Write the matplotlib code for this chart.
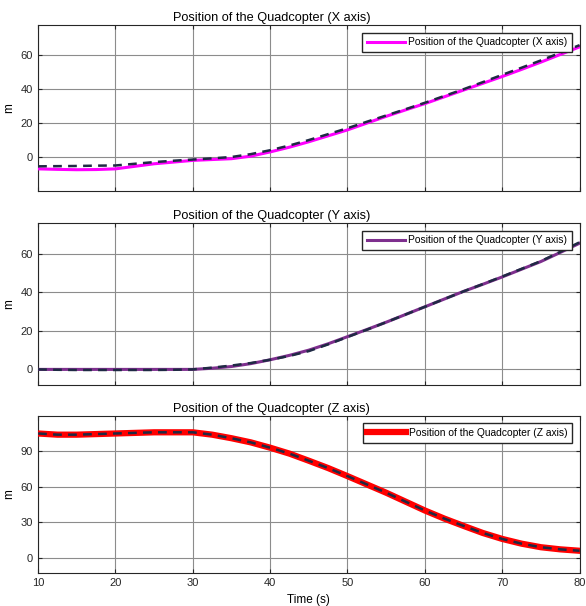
import matplotlib.pyplot as plt

plt.rcParams['font.family'] = ['Liberation Sans', 'DejaVu Sans']
plt.rcParams['font.size'] = 8

# time samples (s)
t = [10, 12.5, 15, 17.5, 20, 22.5, 25, 27.5, 30, 32.5, 35, 37.5, 40, 42.5, 45,
     47.5, 50, 52.5, 55, 57.5, 60, 62.5, 65, 67.5, 70, 72.5, 75, 77.5, 80]

# X axis: actual (solid) and reference (dashed)
x_pos = [-7, -7.3, -7.5, -7.4, -7, -5.5, -4, -3, -2, -1.5, -1, 0.5, 3, 5.8, 9,
         12.5, 16, 20, 24, 27.8, 31.5, 35.5, 39.5, 43.5, 47.5, 51.7, 56, 60.5, 65]
x_ref = [-5.5, -5.4, -5.3, -5.1, -5, -4, -3, -2.2, -1.5, -0.8, 0, 1.7, 4, 6.8, 10,
         13.5, 17, 20.8, 24.5, 28.2, 32, 36, 40, 44.2, 48.5, 52.7, 57, 61.5, 66]

# Y axis
y_pos = [0, 0, 0, 0, 0, 0, 0, 0, 0, 0.6, 1.5, 3, 5, 7.3, 10,
         13.3, 17, 20.7, 24.5, 28.5, 32.5, 36.5, 40.5, 44.2, 48, 52, 56, 60.7, 65.5]
y_ref = [0, -0.2, -0.3, -0.3, -0.3, -0.3, -0.3, -0.2, 0, 0.9, 2, 3.3, 5, 7, 9.5,
         13, 16.8, 20.6, 24.5, 28.5, 32.5, 36.5, 40.5, 44.3, 48.2, 52.2, 56.2, 61, 66]

# Z axis
z_pos = [105, 104, 104, 104.5, 105, 105.5, 106, 106, 106, 104, 101, 97.5, 93, 88, 82,
         75.8, 69, 62, 55, 47.5, 40, 33.2, 27, 21, 16, 12, 9, 7.2, 6]
z_ref = z_pos

panels = [
    ('Position of the Quadcopter (X axis)', x_pos, x_ref, '#ff00ff', 2.2, (-20, 78), [0, 20, 40, 60]),
    ('Position of the Quadcopter (Y axis)', y_pos, y_ref, '#7e2f8e', 2.2, (-8, 76), [0, 20, 40, 60]),
    ('Position of the Quadcopter (Z axis)', z_pos, z_ref, '#ff0000', 4.5, (-13, 120), [0, 30, 60, 90]),
]

fig = plt.figure(figsize=(5.86, 6.06), dpi=100)
boxes = [(0.065, 0.685, 0.924, 0.274),
         (0.065, 0.365, 0.924, 0.267),
         (0.065, 0.054, 0.924, 0.260)]

for (title, pos, ref, col, lw, ylim, yt), box in zip(panels, boxes):
    ax = fig.add_axes(box)
    ax.plot(t, pos, color=col, lw=lw, label=title, zorder=3)
    ax.plot(t, ref, color='#1f2a44', lw=1.8, ls=(0, (3.5, 2.5)), zorder=4)
    ax.set_xlim(10, 80)
    ax.set_ylim(*ylim)
    ax.set_yticks(yt)
    ax.set_xticks(range(10, 81, 10))
    ax.grid(True, color='#8c8c8c', lw=0.8)
    ax.set_axisbelow(True)
    ax.tick_params(direction='in', length=3, top=True, right=True, labelsize=8, colors='#262626')
    ax.set_title(title, fontsize=9.2, pad=3, x=0.431)
    ax.set_ylabel('m', fontsize=8.5)
    for s in ax.spines.values():
        s.set_color('#262626')
        s.set_linewidth(0.8)
    leg = ax.legend(loc='upper right', fontsize=7.4, fancybox=False, framealpha=1,
                    edgecolor='#262626', handlelength=3.7, borderpad=0.45,
                    handletextpad=0.3, borderaxespad=0.75)
    leg.get_frame().set_linewidth(1.0)
    if box is not boxes[-1]:
        ax.tick_params(labelbottom=False)
    else:
        ax.set_xlabel('Time (s)', fontsize=8.5)

fig.savefig('out.png', dpi=100)
